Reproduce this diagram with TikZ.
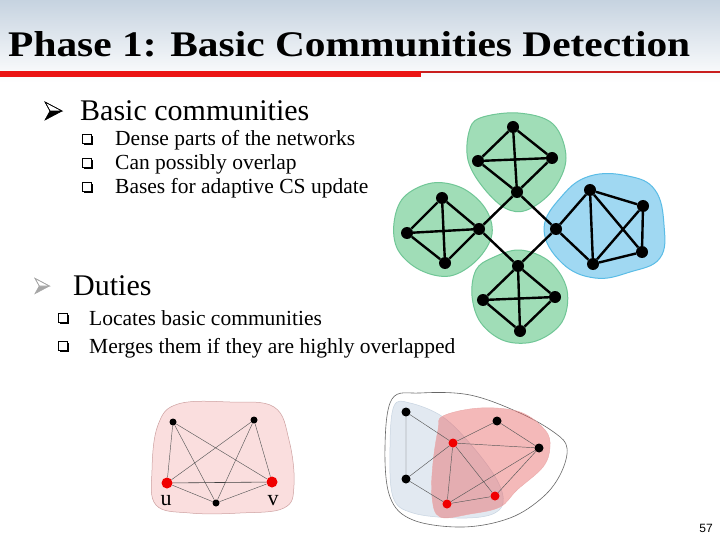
\documentclass[tikz,border=0pt]{standalone}
\usepackage{fontspec}
\setmainfont{Liberation Serif}
\newfontfamily\lsans{Liberation Sans}
\usetikzlibrary{calc}
\definecolor{gfill}{RGB}{160,221,183}
\definecolor{gline}{RGB}{112,198,150}
\definecolor{bfill}{RGB}{160,216,242}
\definecolor{bline}{RGB}{90,188,230}
\definecolor{pfill}{RGB}{250,222,222}
\definecolor{pline}{RGB}{205,160,160}
\definecolor{topbg}{RGB}{198,211,224}
\definecolor{redbar}{RGB}{235,20,20}
\definecolor{redthin}{RGB}{200,30,30}
\definecolor{redn}{RGB}{240,0,0}
\tikzset{
  bn/.style={circle,fill=black,inner sep=0pt,minimum size=12pt},
  sn/.style={circle,fill=black,inner sep=0pt,minimum size=7pt},
  rn/.style={circle,fill=redn,inner sep=0pt,minimum size=11pt},
  rsn/.style={circle,fill=redn,inner sep=0pt,minimum size=9pt},
  bsn/.style={circle,fill=black,inner sep=0pt,minimum size=9pt},
  thick edge/.style={line width=2.4pt},
  thin edge/.style={draw=black!65,line width=0.45pt},
  gblob/.style={fill=gfill,draw=gline,line width=1pt},
  lvl1/.style={anchor=base west,font=\fontsize{30}{33}\selectfont,inner sep=0pt},
  lvl2/.style={anchor=base west,font=\fontsize{21.5}{24}\selectfont,inner sep=0pt},
  pics/arrowbul/.style={code={
     \fill[#1] (0,9) -- (17,0) -- (5,0) -- cycle;
     \draw[line width=0.6pt,#1,fill=white] (0,-9) -- (17,0) -- (5,0) -- cycle;
     \draw[line width=0.6pt,#1] (0,-9) -- (17,0) -- (0,9) -- (5,0) -- cycle;
  }},
  pics/qbox/.style={code={
     \fill[black] (1.6,-3.4) rectangle (10.6,5.6);
     \draw[line width=0.7pt,fill=white] (0,-5) rectangle (9,4);
  }}
}
\begin{document}
\begin{tikzpicture}[x=1pt,y=-1pt]
\useasboundingbox (0,0) rectangle (720,540);
\fill[white] (0,0) rectangle (720,540);
\shade[top color=topbg,bottom color=white] (0,0) rectangle (720,82);
\fill[redthin] (420,71.5) rectangle (720,73.5);
\fill[redbar] (0,71) rectangle (421,77);
\node[anchor=base west,inner sep=0pt] (title) at (8,57) {\resizebox{682pt}{25pt}{\bfseries Phase 1: Basic Communities Detection}};

% bullets
\pic at (45,111) {arrowbul=black};
\node[lvl1] (t1) at (80,121) {Basic communities};
\pic at (82,139) {qbox};
\node[lvl2] (t11) at (115,146) {Dense parts of the networks};
\pic at (82,163) {qbox};
\node[lvl2] (t12) at (115,170) {Can possibly overlap};
\pic at (82,187) {qbox};
\node[lvl2] (t13) at (115,194) {Bases for adaptive CS update};

\pic[scale=0.85] at (35,286) {arrowbul=black!35};
\node[lvl1] (t2) at (73,295) {Duties};
\pic at (58,318) {qbox};
\node[lvl2] (t21) at (89,325) {Locates basic communities};
\pic at (58,346) {qbox};
\node[lvl2] (t22) at (89,353) {Merges them if they are highly overlapped};

% network blobs
\draw[gblob] plot[smooth cycle,tension=0.6] coordinates {(480,118) (518,113) (553,124) (566,158) (553,190) (527,210) (505,208) (482,186) (468,160) (469,132)};
\draw[gblob] plot[smooth cycle,tension=0.6] coordinates {(404,197) (432,183) (462,188) (485,208) (492,234) (477,260) (450,276) (420,270) (398,250) (394,223)};
\draw[gblob] plot[smooth cycle,tension=0.6] coordinates {(492,258) (520,250) (550,262) (567,290) (562,322) (536,341) (505,341) (481,323) (472,296) (476,270)};
\draw[fill=bfill,draw=bline,line width=1pt] plot[smooth cycle,tension=0.7] coordinates {(544,229) (562,196) (590,176) (628,176) (655,190) (664,225) (660,258) (630,272) (595,278) (562,263)};

% network nodes
\node[bn] (tT) at (513,127) {};
\node[bn] (tL) at (478,161) {};
\node[bn] (tR) at (552,158) {};
\node[bn] (tB) at (517,192) {};
\node[bn] (lT) at (442,198) {};
\node[bn] (lL) at (407,233) {};
\node[bn] (lR) at (479,229) {};
\node[bn] (lB) at (445,263) {};
\node[bn] (dT) at (518,266) {};
\node[bn] (dL) at (483,300) {};
\node[bn] (dR) at (555,297) {};
\node[bn] (dB) at (520,331) {};
\node[bn] (rL) at (556,229) {};
\node[bn] (rT) at (590,190) {};
\node[bn] (rU) at (643,206) {};
\node[bn] (rD) at (642,252) {};
\node[bn] (rB) at (593,264) {};
\begin{scope}[thick edge]
\foreach \p in {t,l,d}{
  \draw (\p T) -- (\p L) (\p T) -- (\p R) (\p T) -- (\p B) (\p L) -- (\p R) (\p L) -- (\p B) (\p R) -- (\p B);
}
\draw (rL) -- (rT) (rL) -- (rB) (rT) -- (rU) (rT) -- (rB) (rT) -- (rD) (rU) -- (rD) (rU) -- (rB) (rD) -- (rB);
\draw (tB) -- (lR) (tB) -- (rL) (lR) -- (dT) (rL) -- (dT);
\end{scope}

% bottom-left graph
\draw[fill=pfill,draw=pline,line width=0.5pt] plot[smooth cycle,tension=0.65] coordinates {(178,404) (230,402) (274,407) (289,440) (294,485) (284,508) (240,513) (190,513) (156,505) (152,470) (158,425)};
\node[sn] (pa) at (173,422) {};
\node[sn] (pb) at (254,420) {};
\node[rn] (pu) at (167,483) {};
\node[rn] (pv) at (272,482) {};
\node[sn] (pc) at (216,503) {};
\begin{scope}[thin edge]
\draw (pa) -- (pu) (pa) -- (pv) (pa) -- (pc) (pb) -- (pu) (pb) -- (pc) (pb) -- (pv) (pu) -- (pc) (pc) -- (pv);
\draw[draw=black!75,line width=0.6pt] (pu) -- (pv);
\end{scope}
\node[anchor=base,inner sep=0pt,font=\fontsize{22}{24}\selectfont] (lu) at (166,505) {u};
\node[anchor=base,inner sep=0pt,font=\fontsize{22}{24}\selectfont] (lv) at (273,505) {v};

% bottom-right graph
\draw[fill=white,draw=black!60,line width=0.6pt] plot[smooth cycle,tension=0.6] coordinates {(392,399) (420,393) (470,395) (520,413) (555,433) (567,448) (561,473) (543,497) (510,518) (463,527) (413,520) (390,497) (385,447)};
\draw[fill={rgb,255:red,226;green,233;blue,241},draw={rgb,255:red,200;green,212;blue,225},line width=0.5pt] plot[smooth cycle,tension=0.6] coordinates {(394,406) (410,403) (443,417) (473,447) (497,480) (503,503) (490,515) (457,518) (413,513) (393,497) (390,447)};
\draw[fill={rgb,255:red,232;green,100;blue,100},fill opacity=0.45,draw={rgb,255:red,235;green,170;blue,170},line width=0.4pt] plot[smooth cycle,tension=0.6] coordinates {(443,416) (480,408) (520,412) (545,430) (550,447) (543,467) (517,490) (500,507) (470,514) (440,517) (432,497) (433,463) (438,430)};
\node[bsn] (qa) at (406,412) {};
\node[bsn] (qb) at (406,479) {};
\node[rsn] (qr) at (453,443) {};
\node[bsn] (qt) at (497,421) {};
\node[bsn] (qe) at (539,448) {};
\node[rsn] (qs) at (447,504) {};
\node[rsn] (qd) at (495,496) {};
\begin{scope}[thin edge]
\draw (qa) -- (qb) (qa) -- (qr) (qb) -- (qr) (qb) -- (qs) (qr) -- (qt) (qr) -- (qe) (qr) -- (qs) (qr) -- (qd) (qt) -- (qe) (qe) -- (qs) (qe) -- (qd) (qs) -- (qd);
\end{scope}

\node[anchor=base east,inner sep=0pt,font=\lsans\fontsize{12}{14}\selectfont] (pg) at (713,532) {57};
\end{tikzpicture}
\end{document}
